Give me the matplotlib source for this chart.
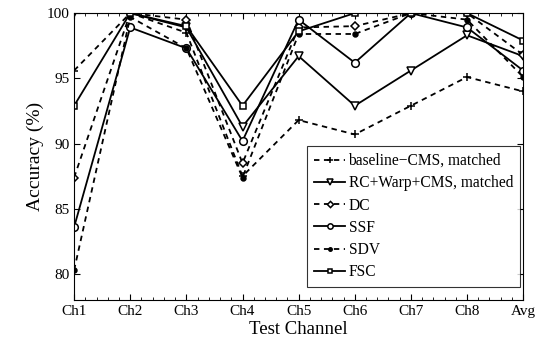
import matplotlib
matplotlib.use("Agg")
import matplotlib.pyplot as plt
from matplotlib.ticker import AutoMinorLocator

plt.rcParams['font.family'] = ['Liberation Serif', 'DejaVu Serif']

channels = ["Ch1", "Ch2", "Ch3", "Ch4", "Ch5", "Ch6", "Ch7", "Ch8", "Avg"]
baseline = [95.6, 100.0, 98.5, 87.5, 91.8, 90.7, 92.9, 95.1, 94.0]
rc_warp = [100.0, 100.0, 98.9, 91.3, 96.7, 92.9, 95.6, 98.3, 96.7]
dc = [87.4, 100.0, 99.5, 88.5, 98.9, 99.0, 100.0, 100.0, 96.8]
ssf = [83.6, 98.9, 97.3, 90.2, 99.5, 96.2, 100.0, 98.9, 95.6]
sdv = [80.3, 99.7, 97.3, 87.4, 98.4, 98.4, 100.0, 99.5, 95.1]
fsc = [92.9, 100.0, 99.0, 92.9, 98.6, 100.0, 100.0, 100.0, 97.9]

labels = ["baseline\u2212CMS, matched", "RC+Warp+CMS, matched", "DC", "SSF", "SDV", "FSC"]
series = [baseline, rc_warp, dc, ssf, sdv, fsc]
markers = ["+", "v", "D", "o", ".", "s"]
styles = ["--", "-", "--", "-", "--", "-"]
msizes = [6, 6, 4.5, 5.5, 7, 5]

fig = plt.figure(figsize=(5.41, 3.45), dpi=100)
ax = fig.add_axes([0.137, 0.130, 0.830, 0.832])
x = list(range(len(channels)))
for vals, lab, m, ls, ms in zip(series, labels, markers, styles, msizes):
    fc = 'black' if m in ['.', '+'] else 'white'
    ax.plot(x, vals, linestyle=ls, marker=m, color='black', lw=1.3,
            markersize=ms, markerfacecolor=fc, markeredgecolor='black',
            markeredgewidth=1.1, label=lab, dashes=(3, 2.5) if ls == '--' else (None, None))

ax.set_xlim(0, 8)
ax.set_ylim(78, 100)
ax.set_xticks(x)
ax.set_xticklabels(channels)
ax.set_yticks([80, 85, 90, 95, 100])
ax.xaxis.set_minor_locator(AutoMinorLocator(5))
ax.tick_params(which='both', direction='in', top=True, right=True, labelsize=11)
ax.tick_params(which='major', length=4)
ax.tick_params(which='minor', length=2)
for s in ax.spines.values():
    s.set_linewidth(0.8)
ax.set_xlabel("Test Channel", fontsize=13.5, labelpad=2)
ax.set_ylabel("Accuracy (%)", fontsize=14, labelpad=2)

leg = ax.legend(loc='lower right', bbox_to_anchor=(0.993, 0.045), borderaxespad=0,
                fontsize=11.2, frameon=True, fancybox=False, edgecolor='black',
                handlelength=2.0, handletextpad=0.2, borderpad=0.45,
                labelspacing=0.4, markerscale=0.7)
leg.get_frame().set_linewidth(0.8)

fig.savefig("out.png", dpi=100)
